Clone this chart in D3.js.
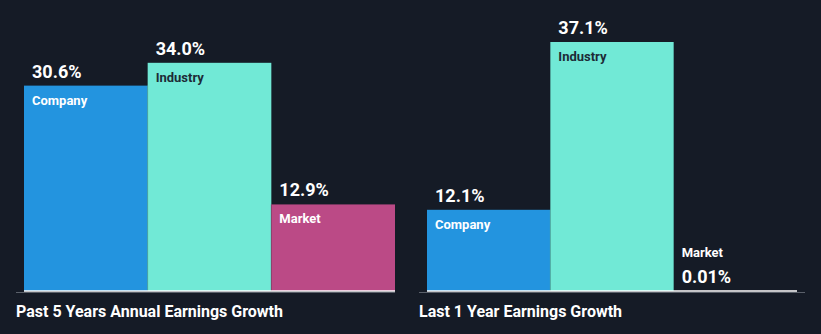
<!DOCTYPE html>
<html>
<head>
<meta charset="utf-8">
<script src="https://cdn.jsdelivr.net/npm/d3@7"></script>
<style>
  html, body { margin: 0; padding: 0; background: #151b26; }
  svg { display: block; }
  text { font-family: Roboto, "Noto Sans", sans-serif; }
</style>
</head>
<body>
<svg id="chart" width="821" height="334"></svg>
<script>
const categories = ["Company", "Industry", "Market"];
const pastFiveYears = [30.6, 34.0, 12.9];
const lastOneYear = [12.1, 37.1, 0.01];
const valueLabelsPast = ["30.6%", "34.0%", "12.9%"];
const valueLabelsLast = ["12.1%", "37.1%", "0.01%"];
const groupTitles = ["Past 5 Years Annual Earnings Growth", "Last 1 Year Earnings Growth"];
const colors = ["#2394df", "#71e9d6", "#bb4a86"];
const nameColors = ["#ffffff", "#1d2b36", "#ffffff"];

const svg = d3.select("#chart");
const W = 821, H = 334;
svg.append("rect").attr("width", W).attr("height", H).attr("fill", "#151b26");

const y = d3.scaleLinear().domain([0, 37.1]).range([291, 42]);

const groups = [
  { values: pastFiveYears, labels: valueLabelsPast, title: groupTitles[0], range: [24, 395], axis: [16, 395] },
  { values: lastOneYear, labels: valueLabelsLast, title: groupTitles[1], range: [427, 797], axis: [419, 805] }
];

groups.forEach(gd => {
  const x = d3.scaleBand().domain(categories).range(gd.range).padding(0);
  const g = svg.append("g");

  g.append("line")
    .attr("x1", gd.axis[0]).attr("x2", gd.axis[1])
    .attr("y1", y(0) + 1.5).attr("y2", y(0) + 1.5)
    .attr("stroke", "#5a606a").attr("stroke-width", 1);

  const data = categories.map((c, i) => ({ c, v: gd.values[i], label: gd.labels[i], i }));

  g.selectAll("rect.bar").data(data).enter().append("rect")
    .attr("class", "bar")
    .attr("x", d => x(d.c))
    .attr("width", x.bandwidth())
    .attr("y", d => y(d.v))
    .attr("height", d => y(0) - y(d.v))
    .attr("fill", d => colors[d.i]);

  g.selectAll("line.sep").data(data.slice(1)).enter().append("line")
    .attr("class", "sep")
    .attr("x1", d => x(d.c)).attr("x2", d => x(d.c))
    .attr("y1", d => Math.max(y(d.v), y(data[d.i - 1].v)))
    .attr("y2", y(0))
    .attr("stroke", d => d3.color(colors[d.i]).darker(0.8))
    .attr("stroke-opacity", d => (y(0) - y(d.v) > 2 ? 0.6 : 0))
    .attr("stroke-width", 1);

  g.append("line")
    .attr("x1", gd.range[0]).attr("x2", gd.range[1])
    .attr("y1", y(0)).attr("y2", y(0))
    .attr("stroke", "#ffffff").attr("stroke-width", 1.5);

  data.forEach(d => {
    const h = y(0) - y(d.v);
    const tx = x(d.c) + 8;
    g.append("text").attr("x", tx).attr("y", y(d.v) - 8)
      .attr("fill", "#ffffff").attr("font-size", 18).attr("font-weight", 700)
      .text(d.label);
    g.append("text").attr("x", tx).attr("y", h > 30 ? y(d.v) + 19 : y(d.v) - 34)
      .attr("fill", h > 30 ? nameColors[d.i] : "#ffffff")
      .attr("font-size", 13).attr("font-weight", 700)
      .text(d.c);
  });

  g.append("text").attr("x", gd.axis[0]).attr("y", 317)
    .attr("fill", "#ffffff").attr("font-size", 16).attr("font-weight", 700)
    .text(gd.title);
});
</script>
</body>
</html>
